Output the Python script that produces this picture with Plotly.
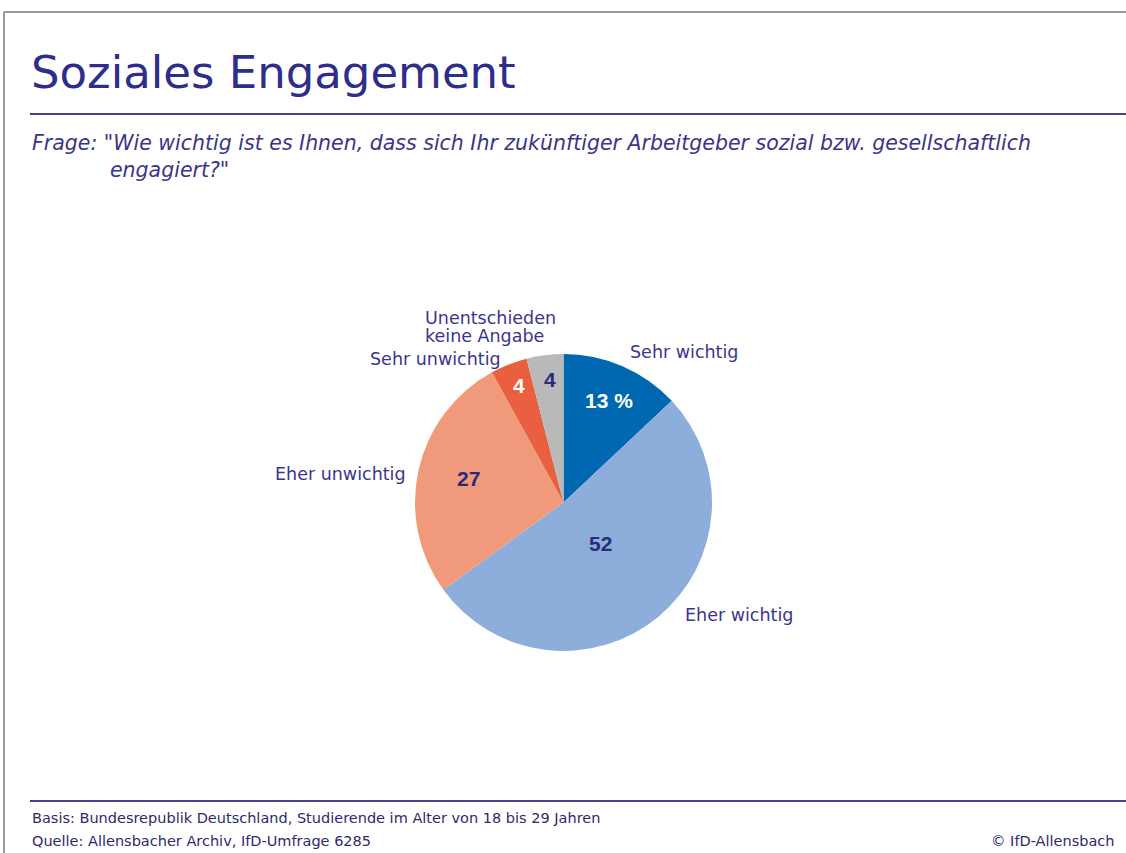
import plotly.graph_objects as go

categories = ["Sehr wichtig", "Eher wichtig", "Eher unwichtig", "Sehr unwichtig", "Unentschieden<br>keine Angabe"]
values = [13, 52, 27, 4, 4]
value_labels = ["13 %", "52", "27", "4", "4"]
colors = ["#0067B1", "#8DADDA", "#F09A7B", "#E8603F", "#B9B9B9"]
inner_colors = ["#FFFFFF", "#2E2A7A", "#2E2A7A", "#FFFFFF", "#2E2A7A"]

W, H = 1126, 853
cx, cy, r = 563.5, 502.5, 148.5

def px(x):
    return x / W

def py(y):
    return 1 - y / H

fig = go.Figure(go.Pie(
    values=values,
    labels=categories,
    sort=False,
    direction="clockwise",
    rotation=0,
    marker=dict(colors=colors, line=dict(width=0)),
    textinfo="none",
    hoverinfo="label+value",
    showlegend=False,
    domain=dict(x=[px(cx - r), px(cx + r)], y=[py(cy + r), py(cy - r)]),
))

# offsets (pixels from pie centre) for inner value labels and outer category labels
inner_offsets = [(45, -102), (37, 41), (-95, -24), (-45, -117), (-14, -123)]
outer_offsets = [(64, -150, "left"), (119, 112, "left"), (-156, -28, "right"), (-61, -143, "right"), (-141, -184, "left")]
line_gap = 18

ann = []
for lab, col, (dx, dy) in zip(value_labels, inner_colors, inner_offsets):
    ann.append(dict(x=px(cx), y=py(cy), xref="paper", yref="paper", text="<b>%s</b>" % lab,
                    showarrow=False, xshift=dx, yshift=-dy, xanchor="center", yanchor="middle",
                    font=dict(family="Liberation Sans Narrow, Liberation Sans, Arial", size=21, color=col)))
for lab, (dx, dy, anc) in zip(categories, outer_offsets):
    for i, line in enumerate(lab.split("<br>")):
        ann.append(dict(x=px(cx), y=py(cy), xref="paper", yref="paper", text=line,
                        showarrow=False, xshift=dx, yshift=-(dy + i * line_gap), xanchor=anc, yanchor="middle",
                        font=dict(family="DejaVu Sans", size=17.5, color="#3A3590")))

title_color = "#2E2D8C"
ann.append(dict(x=px(29), y=py(72), xref="paper", yref="paper", text="Soziales Engagement",
                showarrow=False, xanchor="left", yanchor="middle",
                font=dict(family="DejaVu Sans", size=45, color=title_color)))
sub_font = dict(family="DejaVu Sans", size=20.5, color="#3A3588")
ann.append(dict(x=px(30), y=py(143), xref="paper", yref="paper",
                text="<i>Frage: \"Wie wichtig ist es Ihnen, dass sich Ihr zukünftiger Arbeitgeber sozial bzw. gesellschaftlich</i>",
                showarrow=False, xanchor="left", yanchor="middle", font=sub_font))
ann.append(dict(x=px(108), y=py(170), xref="paper", yref="paper",
                text="<i>engagiert?\"</i>",
                showarrow=False, xanchor="left", yanchor="middle", font=sub_font))
foot_font = dict(family="DejaVu Sans", size=14.5, color="#2E2A70")
ann.append(dict(x=px(30), y=py(818), xref="paper", yref="paper",
                text="Basis: Bundesrepublik Deutschland, Studierende im Alter von 18 bis 29 Jahren",
                showarrow=False, xanchor="left", yanchor="middle", font=foot_font))
ann.append(dict(x=px(30), y=py(841), xref="paper", yref="paper",
                text="Quelle: Allensbacher Archiv, IfD-Umfrage 6285",
                showarrow=False, xanchor="left", yanchor="middle", font=foot_font))
ann.append(dict(x=px(1116), y=py(841), xref="paper", yref="paper",
                text="© IfD-Allensbach",
                showarrow=False, xanchor="right", yanchor="middle", font=foot_font))

shapes = [
    dict(type="line", xref="paper", yref="paper", x0=px(4), x1=1, y0=py(12), y1=py(12),
         line=dict(color="#9A9A9A", width=2)),
    dict(type="line", xref="paper", yref="paper", x0=px(4), x1=px(4), y0=py(12), y1=0,
         line=dict(color="#9A9A9A", width=2)),
    dict(type="line", xref="paper", yref="paper", x0=px(30), x1=1, y0=py(114), y1=py(114),
         line=dict(color="#4A3F8E", width=2)),
    dict(type="line", xref="paper", yref="paper", x0=px(30), x1=1, y0=py(801), y1=py(801),
         line=dict(color="#4A3F8E", width=2)),
]

fig.update_layout(
    width=W, height=H,
    margin=dict(l=0, r=0, t=0, b=0),
    paper_bgcolor="white", plot_bgcolor="white",
    annotations=ann, shapes=shapes,
)

fig.write_html("out.html", config={"displayModeBar": False},
               post_script="document.body.style.margin='0';document.body.style.overflow='hidden';")
